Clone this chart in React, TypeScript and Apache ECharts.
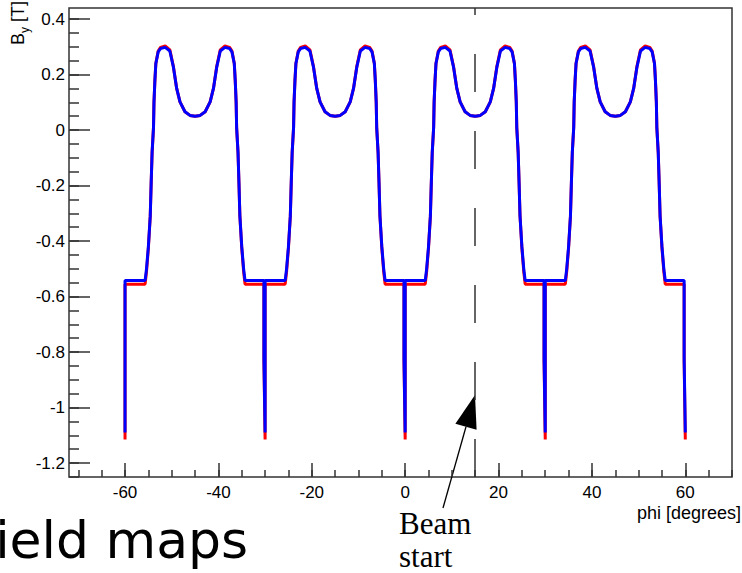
import React, { useEffect, useRef } from "react";
import * as echarts from "echarts";

// ---- data ----
const SECTOR_STARTS = [-60, -30, 0, 30];
const LAST_EDGE = 60;
// phi offsets (degrees) inside one 30-degree sector
const SECTOR_OFFSETS = [
  0, 0, 4.3, 4.6, 5.0, 5.4, 5.6, 5.8, 6.1, 6.2, 6.4, 6.6, 7.1, 7.6, 8.6, 9.6,
  10.35, 11.06, 11.77, 12.84, 13.91, 15.0, 16.09, 17.16, 18.23, 18.94, 19.65,
  20.4, 21.4, 22.4, 22.9, 23.4, 23.6, 23.8, 23.9, 24.2, 24.4, 24.6, 25.0, 25.4,
  25.7, 29.75, 29.75,
];
// B_y [T] values along one sector (blue curve)
const BLUE_SECTOR = [
  -1.09, -0.542, -0.542, -0.5, -0.42, -0.31, -0.19, -0.08, 0.01, 0.1, 0.18, 0.24,
  0.282, 0.294, 0.298, 0.285, 0.228, 0.15, 0.102, 0.066, 0.053, 0.05, 0.053,
  0.066, 0.102, 0.15, 0.228, 0.285, 0.298, 0.294, 0.282, 0.24, 0.18, 0.1, 0.01,
  -0.08, -0.19, -0.31, -0.42, -0.5, -0.542, -0.542, -0.82,
];
// B_y [T] values along one sector (red curve)
const RED_SECTOR = [
  -1.115, -0.555, -0.555, -0.51, -0.425, -0.31, -0.19, -0.08, 0.01, 0.1, 0.18,
  0.24, 0.285, 0.298, 0.303, 0.289, 0.23, 0.15, 0.102, 0.066, 0.053, 0.05, 0.053,
  0.066, 0.102, 0.15, 0.23, 0.289, 0.303, 0.298, 0.285, 0.24, 0.18, 0.1, 0.01,
  -0.08, -0.19, -0.31, -0.425, -0.51, -0.555, -0.555, -0.835,
];
const BLUE_END = -1.09;
const RED_END = -1.115;
const BEAM_START_PHI = 15;

const X_MIN = -72;
const X_MAX = 70;
const Y_MIN = -1.25;
const Y_MAX = 0.44;
const X_MAJOR = [-60, -40, -20, 0, 20, 40, 60];
const Y_MAJOR = [-1.2, -1, -0.8, -0.6, -0.4, -0.2, 0, 0.2, 0.4];

function buildSeries(vals: number[], endVal: number): number[][] {
  const out: number[][] = [];
  SECTOR_STARTS.forEach((s) => {
    SECTOR_OFFSETS.forEach((o, i) => {
      out.push([Math.round((s + o) * 1000) / 1000, vals[i]]);
    });
  });
  out.push([LAST_EDGE, endVal]);
  return out;
}

function minorTicks(a: number, b: number, step: number): number[] {
  const r: number[] = [];
  const n = Math.round((b - a) / step);
  for (let i = 0; i <= n; i++) r.push(Math.round((a + i * step) * 1000) / 1000);
  return r;
}

export default function App() {
  const ref = useRef<HTMLDivElement>(null);
  useEffect(() => {
    if (!ref.current) return;
    const chart = echarts.init(ref.current, null, { renderer: "svg" });
    const tickStyle = { color: "#333", width: 1.5 };
    const labelFont = { fontFamily: "Liberation Sans", fontSize: 17, color: "#000" };
    const fmt = (v: number) => String(Math.round(v * 10) / 10);
    const hiddenLine = { show: false, onZero: false };
    const option: any = {
      animation: false,
      backgroundColor: "#fff",
      grid: {
        left: 69,
        top: 8,
        right: 10,
        bottom: 96,
        show: true,
        borderColor: "#333",
        borderWidth: 1.5,
        backgroundColor: "transparent",
      },
      xAxis: [
        {
          type: "value",
          min: X_MIN,
          max: X_MAX,
          position: "bottom",
          axisLine: hiddenLine,
          splitLine: { show: false },
          axisTick: { show: true, inside: true, length: 7, customValues: minorTicks(-70, 70, 5), lineStyle: tickStyle },
          axisLabel: { show: false },
        },
        {
          type: "value",
          min: X_MIN,
          max: X_MAX,
          position: "bottom",
          axisLine: hiddenLine,
          splitLine: { show: false },
          axisTick: { show: true, inside: true, length: 14, customValues: X_MAJOR, lineStyle: tickStyle },
          axisLabel: { show: true, customValues: X_MAJOR, margin: 7, formatter: fmt, ...labelFont },
        },
      ],
      yAxis: [
        {
          type: "value",
          min: Y_MIN,
          max: Y_MAX,
          position: "left",
          axisLine: hiddenLine,
          splitLine: { show: false },
          axisTick: { show: true, inside: true, length: 10, customValues: minorTicks(-1.25, 0.4, 0.05), lineStyle: tickStyle },
          axisLabel: { show: false },
        },
        {
          type: "value",
          min: Y_MIN,
          max: Y_MAX,
          position: "left",
          axisLine: hiddenLine,
          splitLine: { show: false },
          axisTick: { show: true, inside: true, length: 21, customValues: Y_MAJOR, lineStyle: tickStyle },
          axisLabel: { show: true, customValues: Y_MAJOR, margin: 4, formatter: fmt, ...labelFont },
        },
      ],
      series: [
        {
          type: "line",
          name: "red",
          xAxisIndex: 0,
          yAxisIndex: 0,
          data: buildSeries(RED_SECTOR, RED_END),
          showSymbol: false,
          symbol: "none",
          lineStyle: { color: "#ff0000", width: 3 },
          clip: true,
          silent: true,
          z: 2,
        },
        {
          type: "line",
          name: "blue",
          xAxisIndex: 0,
          yAxisIndex: 0,
          data: buildSeries(BLUE_SECTOR, BLUE_END),
          showSymbol: false,
          symbol: "none",
          lineStyle: { color: "#0000ff", width: 3 },
          clip: true,
          silent: true,
          z: 3,
          markLine: {
            silent: true,
            symbol: ["none", "none"],
            label: { show: false },
            lineStyle: { color: "#333", width: 1.5, type: [38, 39], dashOffset: 0 },
            data: [{ xAxis: BEAM_START_PHI }],
          },
        },
      ],
      graphic: [
        {
          type: "text",
          x: -31,
          y: 540,
          style: { text: "Field maps", fontFamily: "DejaVu Sans", fontSize: 52, fill: "#000", verticalAlign: "middle" },
        },
        {
          type: "text",
          x: 399,
          y: 523,
          style: { text: "Beam", fontFamily: "Liberation Serif", fontSize: 31, fill: "#000", verticalAlign: "middle" },
        },
        {
          type: "text",
          x: 399,
          y: 556,
          style: { text: "start", fontFamily: "Liberation Serif", fontSize: 31, fill: "#000", verticalAlign: "middle" },
        },
        {
          type: "text",
          x: 741,
          y: 513,
          style: { text: "phi [degrees]", fontFamily: "Liberation Sans", fontSize: 18, fill: "#000", align: "right", verticalAlign: "middle" },
        },
        {
          type: "group",
          x: 27,
          y: 45,
          rotation: Math.PI / 2,
          children: [
            { type: "text", x: 0, y: 0, style: { text: "B", fontFamily: "Liberation Sans", fontSize: 18, fill: "#000", verticalAlign: "bottom" } },
            { type: "text", x: 12, y: 4, style: { text: "y", fontFamily: "Liberation Sans", fontSize: 12, fill: "#000", verticalAlign: "bottom" } },
            { type: "text", x: 18, y: 0, style: { text: " [T]", fontFamily: "Liberation Sans", fontSize: 18, fill: "#000", verticalAlign: "bottom" } },
          ],
        },
        {
          type: "line",
          shape: { x1: 443, y1: 508, x2: 466, y2: 426.7 },
          style: { stroke: "#000", lineWidth: 1.3 },
        },
        {
          type: "polygon",
          shape: { points: [[475, 395], [455.4, 423.7], [476.6, 429.7]] },
          style: { fill: "#000" },
        },
      ],
    };
    chart.setOption(option);
    return () => chart.dispose();
  }, []);
  return (
    <div
      ref={ref}
      style={{ position: "absolute", left: 0, top: 0, width: 742, height: 573, background: "#fff" }}
    />
  );
}
